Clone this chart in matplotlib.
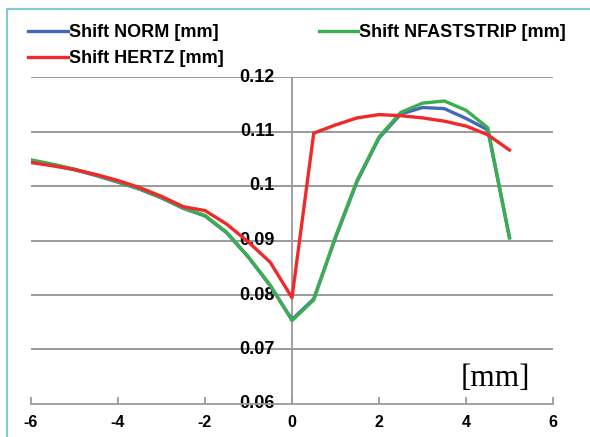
import matplotlib
matplotlib.use("Agg")
import matplotlib.pyplot as plt
from matplotlib.patches import Rectangle
from matplotlib.lines import Line2D

x = [-6, -5.5, -5, -4.5, -4, -3.5, -3, -2.5, -2, -1.5, -1, -0.5, 0,
     0.5, 1, 1.5, 2, 2.5, 3, 3.5, 4, 4.5, 5]
shift_norm = [0.1047, 0.1039, 0.1030, 0.1019, 0.1007, 0.0994, 0.0978, 0.0959,
              0.0945, 0.0914, 0.0869, 0.0817, 0.0755, 0.0793, 0.0905, 0.1009,
              0.1088, 0.1132, 0.1144, 0.1142, 0.1124, 0.1103, 0.0905]
shift_nfast = [0.1048, 0.1040, 0.1031, 0.1020, 0.1008, 0.0995, 0.0979, 0.0960,
               0.0946, 0.0915, 0.0870, 0.0818, 0.0753, 0.0791, 0.0907, 0.1011,
               0.1090, 0.1135, 0.1152, 0.1156, 0.1139, 0.1107, 0.0905]
shift_hertz = [0.1043, 0.1037, 0.1030, 0.1021, 0.1010, 0.0997, 0.0981, 0.0962,
               0.0955, 0.0930, 0.0897, 0.0860, 0.0795, 0.1097, 0.1112, 0.1125,
               0.1131, 0.1129, 0.1125, 0.1119, 0.1110, 0.1094, 0.1066]
xticks = [-6, -4, -2, 0, 2, 4, 6]
yticks = [0.06, 0.07, 0.08, 0.09, 0.10, 0.11, 0.12]
ylabels = ["0.06", "0.07", "0.08", "0.09", "0.1", "0.11", "0.12"]

BLUE = "#4169B8"
GREEN = "#3DAE4E"
RED = "#EE2A2A"
GRID = "#9A9A9A"

fig = plt.figure(figsize=(5.9, 4.37), dpi=100)
fig.patch.set_facecolor("white")

# outer chart border (teal)
fig.patches.append(Rectangle((7 / 590, -0.1), 1.2, (437 - 9) / 437 + 0.1,
                             transform=fig.transFigure, fill=False,
                             edgecolor="#86C9D3", lw=1.6))

ax = fig.add_axes([31 / 590, 33 / 437, 522 / 590, 327 / 437])
ax.set_xlim(-6, 6)
ax.set_ylim(0.06, 0.12)
for s in ["top", "right", "left"]:
    ax.spines[s].set_visible(False)
ax.spines["bottom"].set_color(GRID)
ax.spines["bottom"].set_linewidth(1.3)

for yv in yticks[1:]:
    ax.axhline(yv, color=GRID, lw=1.4, zorder=1)
ax.axvline(0, color=GRID, lw=1.3, zorder=1)

ax.set_xticks(xticks)
ax.set_xticklabels([str(v) for v in xticks], fontweight="bold", fontsize=11.5,
                   family="Liberation Sans")
ax.tick_params(axis="x", direction="in", length=5, color=GRID, width=1.3, pad=8)
ax.set_yticks([])

for yv, lab in zip(yticks, ylabels):
    ax.annotate(lab, xy=(0, yv), xytext=(-12.5, 0), textcoords="offset points",
                ha="right", va="center", fontsize=13, fontweight="bold",
                family="Liberation Sans", zorder=2)

ax.plot(x, shift_norm, color=BLUE, lw=2.4, zorder=3)
ax.plot(x, shift_nfast, color=GREEN, lw=2.4, zorder=4)
ax.plot(x, shift_hertz, color=RED, lw=2.4, zorder=5)

ax.text(4.67, 0.0646, "[mm]", family="Liberation Serif", fontsize=22.5,
        ha="center", va="center")

# legend
handles = [Line2D([], [], color=BLUE, lw=2.4),
           Line2D([], [], color=RED, lw=2.4),
           Line2D([], [], color=GREEN, lw=2.4)]
labels = ["Shift NORM [mm]", "Shift HERTZ [mm]", "Shift NFASTSTRIP [mm]"]
fig.legend(handles, labels, loc="upper left", bbox_to_anchor=(12 / 590, 1 - 8 / 437),
           ncol=2, frameon=False, handlelength=2.2, handletextpad=0.05,
           columnspacing=5.26, labelspacing=0.5,
           prop={"family": "Liberation Sans", "weight": "bold", "size": 13})

fig.savefig("out.png", dpi=100)
